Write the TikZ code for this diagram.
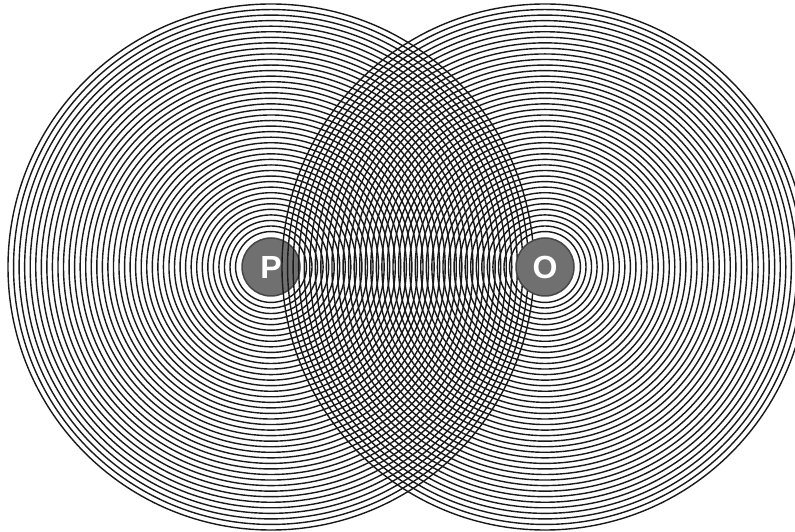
\documentclass[tikz,border=0pt]{standalone}
\usepackage{fontspec}
\setsansfont{Liberation Sans}
\usetikzlibrary{positioning}
\definecolor{atomgray}{RGB}{112,112,112}
\definecolor{atomedge}{RGB}{70,70,70}
\tikzset{
	ring/.style={line width=1.4pt, black!90}
}
\tikzset{
	atom/.style={circle, minimum size=58pt, inner sep=0pt, fill=atomgray, draw=atomedge, line width=1.5pt, text=white, font=\sffamily\bfseries\fontsize{32}{32}\selectfont}
}

\begin{document}
\begin{tikzpicture}[x=1pt,y=1pt]
      \useasboundingbox (0,0) rectangle (795,532);
      \coordinate (Pc) at (271,265);
      \coordinate (Oc) at (545,265);
      % waves around P
      \foreach \k in {0,...,41}
        \draw[ring] (Pc) circle [radius=263-5.55*\k];
      \node[atom] (P) at (Pc) {P};
      % waves around O
      \foreach \k in {0,...,41}
        \draw[ring] (Oc) circle [radius=263-5.55*\k];
      \node[atom] (O) at (Oc) {O};
    \end{tikzpicture}
\end{document}
